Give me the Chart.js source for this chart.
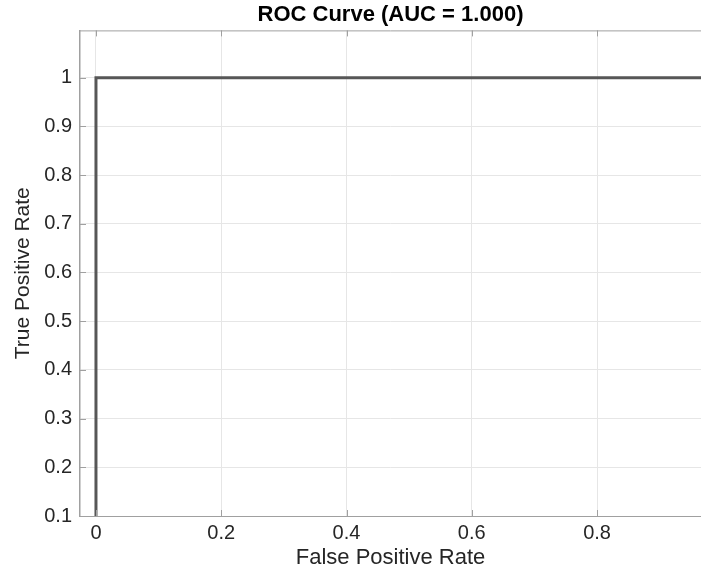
<!DOCTYPE html>
<html>
<head>
<meta charset="utf-8">
<script src="https://cdn.jsdelivr.net/npm/chart.js@4/dist/chart.umd.min.js"></script>
<style>
  html, body { margin: 0; padding: 0; background: #fff; }
  #wrap { width: 701px; height: 573px; }
</style>
</head>
<body>
<div id="wrap"><canvas id="rocChart" width="701" height="573"></canvas></div>
<script>
// ROC data (perfect classifier)
var fpr = [0, 0, 1]
var tpr = [0, 1, 1]
var xTicks = [0, 0.2, 0.4, 0.6, 0.8]
var yTicks = [0.1, 0.2, 0.3, 0.4, 0.5, 0.6, 0.7, 0.8, 0.9, 1]
var auc = 1.0

var axisColor = "#a0a0a0"
var gridColor = "#e6e6e6"
var textColor = "#262626"
var fontFamily = "'Liberation Sans', Arial, Helvetica, sans-serif"

// matlab style: ticks pointing into the box + top frame line
var innerTicks = {
  id: "innerTicks",
  afterDraw: function (chart) {
    var c = chart.ctx
    var a = chart.chartArea
    var xs = chart.scales.x
    var ys = chart.scales.y
    c.save()
    c.strokeStyle = axisColor
    c.lineWidth = 1
    c.beginPath()
    c.moveTo(a.left, a.top + 0.5)
    c.lineTo(a.right, a.top + 0.5)
    xTicks.forEach(function (v) {
      var px = Math.round(xs.getPixelForValue(v)) + 0.5
      c.moveTo(px, a.bottom)
      c.lineTo(px, a.bottom - 6)
      c.moveTo(px, a.top)
      c.lineTo(px, a.top + 6)
    })
    yTicks.forEach(function (v) {
      var py = Math.round(ys.getPixelForValue(v)) + 0.5
      c.moveTo(a.left, py)
      c.lineTo(a.left + 6, py)
    })
    c.stroke()
    c.restore()
  },
}

var ctx = document.getElementById("rocChart")
var chart = new Chart(ctx, {
  type: "line",
  plugins: [innerTicks],
  data: {
    datasets: [
      {
        label: "ROC",
        data: fpr.map(function (x, i) {
          return { x: x, y: tpr[i] }
        }),
        borderColor: "#575757",
        borderWidth: 3,
        pointRadius: 0,
        tension: 0,
        fill: false,
      },
    ],
  },
  options: {
    responsive: false,
    animation: false,
    layout: { padding: 0 },
    plugins: {
      legend: { display: false },
      tooltip: { enabled: false },
      title: {
        display: true,
        fullSize: false,
        text: "ROC Curve (AUC = " + auc.toFixed(3) + ")",
        color: "#000",
        font: { family: fontFamily, size: 22, weight: "bold" },
        padding: { top: 2, bottom: 2 },
      },
    },
    scales: {
      x: {
        type: "linear",
        min: -0.0255,
        max: 0.966,
        afterFit: function (s) {
          s.height = 57
        },
        afterBuildTicks: function (s) {
          s.ticks = xTicks.map(function (v) {
            return { value: v }
          })
        },
        ticks: {
          color: textColor,
          font: { family: fontFamily, size: 20 },
          padding: 5,
          maxRotation: 0,
          callback: function (v) {
            return String(+v.toFixed(1))
          },
        },
        grid: { color: gridColor, drawTicks: false },
        border: { color: axisColor, width: 1 },
        title: {
          display: true,
          text: "False Positive Rate",
          color: textColor,
          font: { family: fontFamily, size: 22 },
          padding: { top: 2, bottom: 2 },
        },
      },
      y: {
        type: "linear",
        min: 0.1,
        max: 1.097,
        afterFit: function (s) {
          s.width = 80
        },
        afterBuildTicks: function (s) {
          s.ticks = yTicks.map(function (v) {
            return { value: v }
          })
        },
        ticks: {
          color: textColor,
          font: { family: fontFamily, size: 20 },
          padding: 8,
          callback: function (v) {
            return String(+v.toFixed(1))
          },
        },
        grid: { color: gridColor, drawTicks: false },
        border: { color: axisColor, width: 1.5 },
        title: {
          display: true,
          text: "True Positive Rate",
          color: textColor,
          font: { family: fontFamily, size: 21 },
          padding: { top: 11, bottom: 2 },
        },
      },
    },
  },
})
</script>
</body>
</html>
